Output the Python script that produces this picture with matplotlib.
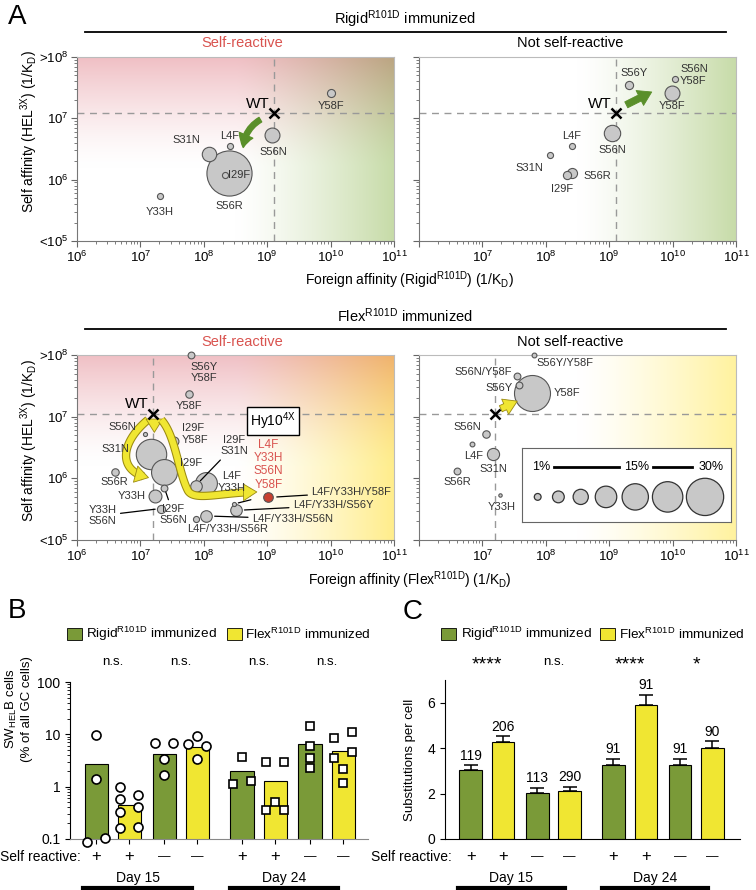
import numpy as np
import matplotlib
matplotlib.use('Agg')
import matplotlib.pyplot as plt
import matplotlib.patheffects as pe
from matplotlib.patches import FancyArrowPatch, Rectangle
from matplotlib.lines import Line2D
from matplotlib.ticker import NullFormatter
from matplotlib.transforms import blended_transform_factory

plt.rcParams['font.family'] = ['Liberation Sans', 'DejaVu Sans']
plt.rcParams['mathtext.fontset'] = 'custom'
plt.rcParams['mathtext.rm'] = 'Liberation Sans'
plt.rcParams['mathtext.it'] = 'Liberation Sans:italic'
plt.rcParams['mathtext.bf'] = 'Liberation Sans:bold'

W, H = 756, 890

# ---- panel A data: log10 affinities (1/KD), bubble size = % of clones ----
wt_rigid = (9.11, 7.08)
wt_flex = (7.2, 7.04)

rigid_sr_names = ['Y58F', 'S56N', 'L4F', 'S31N', 'S56R', 'I29F', 'Y33H']
rigid_sr_foreign = [10.0, 9.08, 8.41, 8.08, 8.40, 8.33, 7.31]
rigid_sr_self = [7.42, 6.73, 6.55, 6.42, 6.11, 6.08, 5.73]
rigid_sr_pct = [1.4, 4.8, 0.8, 4.5, 44, 0.8, 0.8]

rigid_nsr_names = ['S56Y', 'S56N\nY58F', 'Y58F', 'S56N', 'L4F', 'S31N', 'S56R', 'I29F']
rigid_nsr_foreign = [9.31, 10.03, 9.99, 9.05, 8.41, 8.07, 8.42, 8.33]
rigid_nsr_self = [7.54, 7.64, 7.42, 6.76, 6.55, 6.41, 6.11, 6.07]
rigid_nsr_pct = [1.45, 0.8, 4.8, 5.8, 0.8, 0.8, 2.2, 1.45]

flex_sr_names = ['S56Y\nY58F', 'Y58F', 'S56N', 'I29F\nY58F', 'S31N', 'I29F', 'S56R',
                 'L4F\nY33H', 'I29F\nS31N', 'Y33H', 'I29F\nS56N', 'Y33H\nS56N',
                 'L4F/Y33H/S56R', 'L4F/Y33H/S56N', 'L4F/Y33H/S56Y', '', 'L4F/Y33H/Y58F']
flex_sr_foreign = [7.805, 7.76, 7.07, 7.53, 7.17, 7.38, 6.595, 8.03, 7.87, 7.23, 7.38, 7.32,
                   7.87, 8.04, 8.51, 8.48, 9.02]
flex_sr_self = [8.0, 7.37, 6.72, 6.61, 6.39, 6.11, 6.11, 5.92, 5.88, 5.71, 5.84, 5.51,
                5.34, 5.39, 5.48, 5.585, 5.69]
flex_sr_pct = [1.0, 1.2, 0.36, 1.7, 20, 14.5, 1.2, 10.3, 2.9, 3.6, 1.0, 1.45,
               0.8, 2.9, 2.9, 0.36, 2.0]

flex_nsr_names = ['S56Y/Y58F', 'S56N/Y58F', 'S56Y', 'Y58F', 'S56N', 'L4F', 'S31N', 'S56R', 'Y33H']
flex_nsr_foreign = [7.816, 7.54, 7.57, 7.78, 7.063, 6.83, 7.17, 6.605, 7.28]
flex_nsr_self = [8.0, 7.66, 7.52, 7.38, 6.72, 6.56, 6.39, 6.12, 5.73]
flex_nsr_pct = [0.5, 1.0, 1.0, 28, 1.2, 0.5, 3.2, 1.0, 0.25]

legend_pct = [1, 3, 5, 10, 15, 20, 30]

# ---- panel B / C data ----
groups = ['Rigid', 'Flex', 'Rigid', 'Flex', 'Rigid', 'Flex', 'Rigid', 'Flex']
self_reactive = ['+', '+', '—', '—', '+', '+', '—', '—']
b_means = [2.75, 0.44, 4.3, 5.8, 1.95, 1.3, 6.4, 4.9]
b_points = [[9.5, 1.4, 0.089, 0.106],
            [0.97, 0.58, 0.33, 0.16, 0.69, 0.40, 0.17],
            [6.7, 3.4, 1.7, 6.9],
            [6.5, 9.3, 3.4, 6.0],
            [3.7, 1.13, 1.3],
            [2.95, 2.95, 0.52, 0.36, 0.36],
            [14.7, 6.0, 3.5, 2.3],
            [8.6, 11.3, 3.5, 2.2, 1.18, 4.5]]
b_sig = ['n.s.', 'n.s.', 'n.s.', 'n.s.']

c_means = [3.02, 4.26, 2.03, 2.12, 3.27, 5.89, 3.27, 4.01]
c_sem = [0.22, 0.26, 0.22, 0.18, 0.26, 0.45, 0.26, 0.29]
c_n = [119, 206, 113, 290, 91, 91, 91, 90]
c_sig = ['****', 'n.s.', '****', '*']

GREEN = '#7a9a38'
YELLOW = '#f0e632'
RED = '#d9534f'
BUB = '#c8c8c8'
colors = [GREEN if g == 'Rigid' else YELLOW for g in groups]
bar_pos = np.array([0, 1, 2.05, 3.05, 4.4, 5.4, 6.45, 7.45])
day_span = [(-0.4, 2.9), (4.05, 7.3)]


def fx(px):
    return px / W


def fy(py):
    return 1 - py / H


fig = plt.figure(figsize=(W / 100, H / 100), dpi=100)


def add_ax(x0, y0, x1, y1):
    return fig.add_axes([fx(x0), fy(y1), (x1 - x0) / W, (y1 - y0) / H])


def backdrop(ax, top=None, right=None, x0=0.5, y0=0.4):
    n = 200
    u = np.linspace(0, 1, n)
    uu, vv = np.meshgrid(u, u)
    img = np.ones((n, n, 3))
    if top is not None:
        w = np.clip((vv - y0) / (1 - y0), 0, 1) ** 1.4
        img *= 1 - w[..., None] * (1 - np.array(top))
    if right is not None:
        w = np.clip((uu - x0) / (1 - x0), 0, 1) ** 1.3
        img *= 1 - w[..., None] * (1 - np.array(right))
    ax.imshow(img, origin='lower', extent=(0, 1, 0, 1), transform=ax.transAxes,
              aspect='auto', zorder=0, interpolation='bilinear')


def setup_affinity(ax, left, wt):
    ax.set_xscale('log')
    ax.set_yscale('log')
    ax.set_xlim(1e6, 1e11)
    ax.set_ylim(1e5, 1e8)
    ax.set_xticks([10.0 ** k for k in range(6, 12)])
    xl = [r'$10^{%d}$' % k for k in range(6, 12)]
    if not left:
        xl[0] = ''
    ax.set_xticklabels(xl)
    ax.set_yticks([1e5, 1e6, 1e7, 1e8])
    if left:
        ax.set_yticklabels([r'<$10^5$', r'$10^6$', r'$10^7$', r'>$10^8$'])
    else:
        ax.tick_params(labelleft=False)
    ax.xaxis.set_minor_formatter(NullFormatter())
    ax.yaxis.set_minor_formatter(NullFormatter())
    ax.tick_params(which='both', direction='out', color='#666', labelsize=9.5)
    ax.tick_params(which='major', length=4, pad=2)
    ax.tick_params(which='minor', length=2)
    for s in ['left', 'bottom']:
        ax.spines[s].set_color('#777')
    for s in ['top', 'right']:
        ax.spines[s].set_color('#bbb')
    ax.axvline(10 ** wt[0], color='#999', ls=(0, (5, 4)), lw=1, zorder=1)
    ax.axhline(10 ** wt[1], color='#999', ls=(0, (5, 4)), lw=1, zorder=1)
    ax.plot(10 ** wt[0], 10 ** wt[1], marker='x', color='k', ms=6.5, mew=1.8, zorder=6)


def bubbles(ax, foreign, selfa, pct, names, offsets, fc=None):
    fcs = fc if fc is not None else [BUB] * len(pct)
    order = np.argsort(pct)[::-1]
    for i in order:
        ax.scatter(10 ** foreign[i], 10 ** selfa[i], s=24 * pct[i], c=fcs[i],
                   edgecolors='#555', linewidths=0.8, zorder=3, clip_on=False)
    for i, name in enumerate(names):
        if not name:
            continue
        off = offsets[i]
        dx, dy, ha = off[0], off[1], off[2]
        lead = len(off) > 3
        ax.annotate(name, (10 ** foreign[i], 10 ** selfa[i]), xytext=(dx, dy),
                    textcoords='offset points', ha=ha, va='center', fontsize=8,
                    color='#333', linespacing=1.2, zorder=7,
                    arrowprops=dict(arrowstyle='-', lw=0.9, color='k', shrinkA=1,
                                    shrinkB=off[3]) if lead else None)


def bezier(p, n=50):
    p = np.asarray(p, float)
    t = np.linspace(0, 1, n)[:, None]
    return ((1 - t) ** 3 * p[0] + 3 * (1 - t) ** 2 * t * p[1]
            + 3 * (1 - t) * t ** 2 * p[2] + t ** 3 * p[3])


def yellow_arrow(ax, segs):
    pts = np.vstack([bezier(s) for s in segs])
    body = pts[:-4]
    ax.plot(10 ** body[:, 0], 10 ** body[:, 1], color=YELLOW, lw=4.5,
            solid_capstyle='butt', zorder=4,
            path_effects=[pe.Stroke(linewidth=6, foreground='#9a8a10'), pe.Normal()])
    head = FancyArrowPatch(10 ** pts[-6], 10 ** pts[-1],
                           arrowstyle='simple,head_width=0.75,head_length=0.6,tail_width=0.3',
                           mutation_scale=16, fc=YELLOW, ec='#9a8a10', lw=0.6, zorder=4)
    ax.add_patch(head)


def straight_arrow(ax, a, b, fc, ec):
    ax.add_patch(FancyArrowPatch(10 ** np.array(a), 10 ** np.array(b),
                                 arrowstyle='simple,head_width=0.75,head_length=0.6,tail_width=0.3',
                                 mutation_scale=16, fc=fc, ec=ec, lw=0.6, zorder=4))


# ---------------- Panel A ----------------
ax1 = add_ax(77, 57, 394, 241)
ax2 = add_ax(419, 57, 736, 241)
ax3 = add_ax(77, 355, 394, 540)
ax4 = add_ax(419, 355, 736, 540)

pink = (0.94, 0.75, 0.77)
green = (0.78, 0.86, 0.66)
yel = (1.0, 0.93, 0.55)
backdrop(ax1, top=pink, right=green)
backdrop(ax2, right=green, x0=0.5)
backdrop(ax3, top=pink, right=yel)
backdrop(ax4, right=(1.0, 0.95, 0.62), x0=0.5)

for ax, left, wt in [(ax1, True, wt_rigid), (ax2, False, wt_rigid),
                     (ax3, True, wt_flex), (ax4, False, wt_flex)]:
    setup_affinity(ax, left, wt)

wt_lab = dict(xytext=(-12, 7), textcoords='offset points', ha='center', va='center',
              fontsize=11, zorder=7)
ax1.annotate('WT', (10 ** wt_rigid[0], 10 ** wt_rigid[1]), **wt_lab)
ax2.annotate('WT', (10 ** wt_rigid[0], 10 ** wt_rigid[1]), **wt_lab)
ax3.annotate('WT', (10 ** wt_flex[0], 10 ** wt_flex[1]), **wt_lab)

bubbles(ax1, rigid_sr_foreign, rigid_sr_self, rigid_sr_pct, rigid_sr_names,
        [(0, -10, 'center'), (1, -12, 'center'), (0, 7.5, 'center'), (-16, 10, 'center'),
         (0, -24, 'center'), (10, 0, 'center'), (0, -11, 'center')])
bubbles(ax2, rigid_nsr_foreign, rigid_nsr_self, rigid_nsr_pct, rigid_nsr_names,
        [(4, 9, 'center'), (4, 3, 'left'), (0, -10, 'center'), (0, -12, 'center'),
         (0, 7.5, 'center'), (-15, -9.5, 'center'), (18, -2.5, 'center'), (-3.5, -10, 'center')])

sr_offsets = [(9, -12.5, 'center'), (0, -8.6, 'center'), (-16, 4.8, 'center'),
              (5.5, 4.8, 'left'), (-26, 3.6, 'center'), (19, 6, 'center'),
              (0, -7.7, 'center'), (19, 1, 'center'), (28, 29, 'center', 5),
              (-17, 0, 'center'), (6.5, -19, 'center', 3), (-42, -5, 'center', 4),
              (23, -7.5, 'center'), (33, -2, 'left', 6), (41, 3.6, 'left', 6),
              (0, 0, 'center'), (31, 3.6, 'left', 6)]
sr_fc = [BUB] * len(flex_sr_pct)
sr_fc[-1] = '#c8402f'
bubbles(ax3, flex_sr_foreign, flex_sr_self, flex_sr_pct, flex_sr_names, sr_offsets, fc=sr_fc)
# short leader next to the small triple mutant
ax3.annotate('', (10 ** 8.48, 10 ** 5.585), xytext=(12, 3), textcoords='offset points',
             arrowprops=dict(arrowstyle='-', lw=0.9, color='k', shrinkA=0, shrinkB=3))

red_xy = (10 ** flex_sr_foreign[-1], 10 ** flex_sr_self[-1])
ax3.annotate('L4F\nY33H\nS56N\nY58F', red_xy, xytext=(0, 23.5), textcoords='offset points',
             ha='center', va='center', fontsize=8.5, color=RED, linespacing=1.15, zorder=7)
ax3.annotate(r'Hy10$^{\mathrm{4X}}$', red_xy, xytext=(3, 55), textcoords='offset points',
             ha='center', va='center', fontsize=10, zorder=7,
             bbox=dict(boxstyle='square,pad=0.2', fc='white', ec='k', lw=1))

bubbles(ax4, flex_nsr_foreign, flex_nsr_self, flex_nsr_pct, flex_nsr_names,
        [(2, -6, 'left'), (-3, 2.6, 'right'), (-4, -2.4, 'right'), (16, 0, 'left'),
         (-14, 4.8, 'center'), (1.4, -8.6, 'center'), (0, -10.6, 'center'),
         (0, -8, 'center'), (1, -8.4, 'center')])

# arrows
ax1.add_patch(FancyArrowPatch((10 ** 8.93, 10 ** 7.0), (10 ** 8.62, 10 ** 6.48),
                              connectionstyle='arc3,rad=0.3',
                              arrowstyle='simple,head_width=0.7,head_length=0.6,tail_width=0.25',
                              mutation_scale=15, fc='#5a8f2a', ec='#5a8f2a', zorder=4))
straight_arrow(ax2, (9.23, 7.2), (9.71, 7.45), '#5a8f2a', '#5a8f2a')
yellow_arrow(ax3, [[(7.12, 6.95), (6.7, 6.6), (6.6, 6.1), (7.17, 6.0)]])
straight_arrow(ax3, (7.22, 6.93), (7.22, 6.7), YELLOW, '#9a8a10')
yellow_arrow(ax3, [[(7.33, 6.95), (7.55, 6.7), (7.6, 6.1), (7.75, 5.8)],
                   [(7.75, 5.8), (7.85, 5.62), (8.3, 5.78), (8.88, 5.78)]])
straight_arrow(ax4, (7.25, 7.11), (7.59, 7.27), YELLOW, '#9a8a10')

# size legend
lg = ax4.inset_axes([0.325, 0.097, 0.659, 0.4])
lg.set_xlim(0, 1)
lg.set_ylim(0, 1)
lg.set_xticks([])
lg.set_yticks([])
for s in lg.spines.values():
    s.set_color('#666')
lg_x = [0.075, 0.174, 0.281, 0.402, 0.542, 0.697, 0.876]
lg.scatter(lg_x, [0.34] * len(legend_pct), s=[24 * p for p in legend_pct], c=BUB,
           edgecolors='#333', linewidths=0.9)
for xx, t in [(0.09, '1%'), (0.548, '15%'), (0.905, '30%')]:
    lg.text(xx, 0.75, t, ha='center', va='center', fontsize=9)
lg.plot([0.155, 0.465], [0.75, 0.75], color='k', lw=2)
lg.plot([0.627, 0.815], [0.75, 0.75], color='k', lw=2)

# titles and labels
for ytitle, yline, name in [(19, 31.5, 'Rigid'), (316, 329, 'Flex')]:
    fig.text(fx(405), fy(ytitle), name + r'$^{\mathrm{R101D}}$ immunized', ha='center',
             va='center', fontsize=10.5)
    fig.add_artist(Line2D([fx(85), fx(726)], [fy(yline)] * 2, color='k', lw=1.3))
for ysub in [43, 342]:
    fig.text(fx(242), fy(ysub), 'Self-reactive', color=RED, ha='center', va='center', fontsize=10.5)
    fig.text(fx(570), fy(ysub), 'Not self-reactive', ha='center', va='center', fontsize=10.5)
for yl in [131, 440]:
    fig.text(fx(29), fy(yl), r'Self affinity (HEL$^{\mathrm{3X}}$) (1/K$_{\mathrm{D}}$)',
             rotation=90, ha='center', va='center', fontsize=10)
fig.text(fx(410), fy(280), r'Foreign affinity (Rigid$^{\mathrm{R101D}}$) (1/K$_{\mathrm{D}}$)',
         ha='center', va='center', fontsize=10)
fig.text(fx(410), fy(580), r'Foreign affinity (Flex$^{\mathrm{R101D}}$) (1/K$_{\mathrm{D}}$)',
         ha='center', va='center', fontsize=10)
fig.text(fx(8), fy(17), 'A', fontsize=20, va='center')
fig.text(fx(8), fy(611), 'B', fontsize=20, va='center')
fig.text(fx(403), fy(612), 'C', fontsize=20, va='center')

# ---------------- Panel B ----------------
axB = add_ax(70, 682, 368, 839)
axB.set_yscale('log')
axB.bar(bar_pos, b_means, width=0.7, color=colors, edgecolor='k', lw=0.8, zorder=2)
jit = [[0, 0, -1, 1], [-1, -1, -1, -1, 1, 1, 1], [-1, 0, 0, 1], [-1, 0, 0, 1],
       [0, -1, 1], [-1, 1, 0, -1, 1], [0, 0, 0, 0], [-1, 1, -1, 0, 0, 1]]
for i, vals in enumerate(b_points):
    xs = bar_pos[i] + 0.27 * np.array(jit[i])
    axB.plot(xs, vals, ls='none', marker='o' if i < 4 else 's', ms=6.5 if i < 4 else 6,
             mfc='white', mec='k', mew=1.2, clip_on=False, zorder=4)
axB.set_ylim(0.1, 100)
axB.set_xlim(-0.79, 8.2)
axB.set_yticks([0.1, 1, 10, 100])
axB.set_yticklabels(['0.1', '1', '10', '100'])
axB.yaxis.set_minor_formatter(NullFormatter())
axB.set_xticks(bar_pos)
axB.set_xticklabels([])
axB.tick_params(which='both', direction='out', labelsize=10)
axB.tick_params(which='minor', length=2)
for s in ['top', 'right']:
    axB.spines[s].set_visible(False)
axB.spines['bottom'].set_color('#888')
axB.set_ylabel('SW$_{\\mathrm{HEL}}$B cells\n(% of all GC cells)', fontsize=9.5, labelpad=4)
axB.yaxis.set_label_coords(-0.125, 0.83)

# ---------------- Panel C ----------------
axC = add_ax(445, 680, 740, 839)
axC.bar(bar_pos, c_means, width=0.7, color=colors, edgecolor='k', lw=0.8, zorder=2)
axC.errorbar(bar_pos, c_means, yerr=[np.zeros(len(c_sem)), c_sem], fmt='none',
             ecolor='k', elinewidth=1.1, capsize=5, capthick=1.1, zorder=1)
for x, m, e, n in zip(bar_pos, c_means, c_sem, c_n):
    axC.annotate(str(n), (x, m + e), xytext=(0, 2), textcoords='offset points',
                 ha='center', va='bottom', fontsize=10)
axC.set_ylim(0, 7)
axC.set_xlim(-0.79, 8.3)
axC.set_yticks([0, 2, 4, 6])
axC.set_xticks([])
axC.tick_params(direction='out', labelsize=10)
for s in ['top', 'right']:
    axC.spines[s].set_visible(False)
axC.set_ylabel('Substitutions per cell', fontsize=9.5)
axC.yaxis.set_label_coords(-0.1, 0.5)

# legends, significance, self-reactive rows
for ax, gx, gt, yx, yt, sig in [(axB, 67, 86, 227, 245, b_sig), (axC, 441, 461, 600, 619, c_sig)]:
    fig.add_artist(Rectangle((fx(gx), fy(640)), 15 / W, 12 / H, transform=fig.transFigure,
                             fc=GREEN, ec='k', lw=0.6))
    fig.add_artist(Rectangle((fx(yx), fy(640)), 15 / W, 12 / H, transform=fig.transFigure,
                             fc=YELLOW, ec='k', lw=0.6))
    fig.text(fx(gt), fy(634), r'Rigid$^{\mathrm{R101D}}$ immunized', va='center', fontsize=9.7)
    fig.text(fx(yt), fy(634), r'Flex$^{\mathrm{R101D}}$ immunized', va='center', fontsize=9.7)
    tr = blended_transform_factory(ax.transData, fig.transFigure)
    for k, s in enumerate(sig):
        mid = (bar_pos[2 * k] + bar_pos[2 * k + 1]) / 2
        star = s.startswith('*')
        ax.text(mid, fy(665 if star else 662), s, transform=tr, ha='center', va='center',
                fontsize=14 if star else 9.5)
    for x, sr in zip(bar_pos, self_reactive):
        ax.text(x, fy(857), sr, transform=tr, ha='center', va='center',
                fontsize=12 if sr == '+' else 9)
    for (a, b), lab in zip(day_span, ['Day 15', 'Day 24']):
        ax.text((a + b) / 2, fy(878), lab, transform=tr, ha='center', va='center', fontsize=10)
        ax.add_artist(Line2D([a, b], [fy(887.5)] * 2, transform=tr, color='k', lw=3,
                             clip_on=False))
fig.text(fx(81), fy(857), 'Self reactive:', ha='right', va='center', fontsize=10)
fig.text(fx(452), fy(857), 'Self reactive:', ha='right', va='center', fontsize=10)

fig.savefig('out.png', dpi=100)
